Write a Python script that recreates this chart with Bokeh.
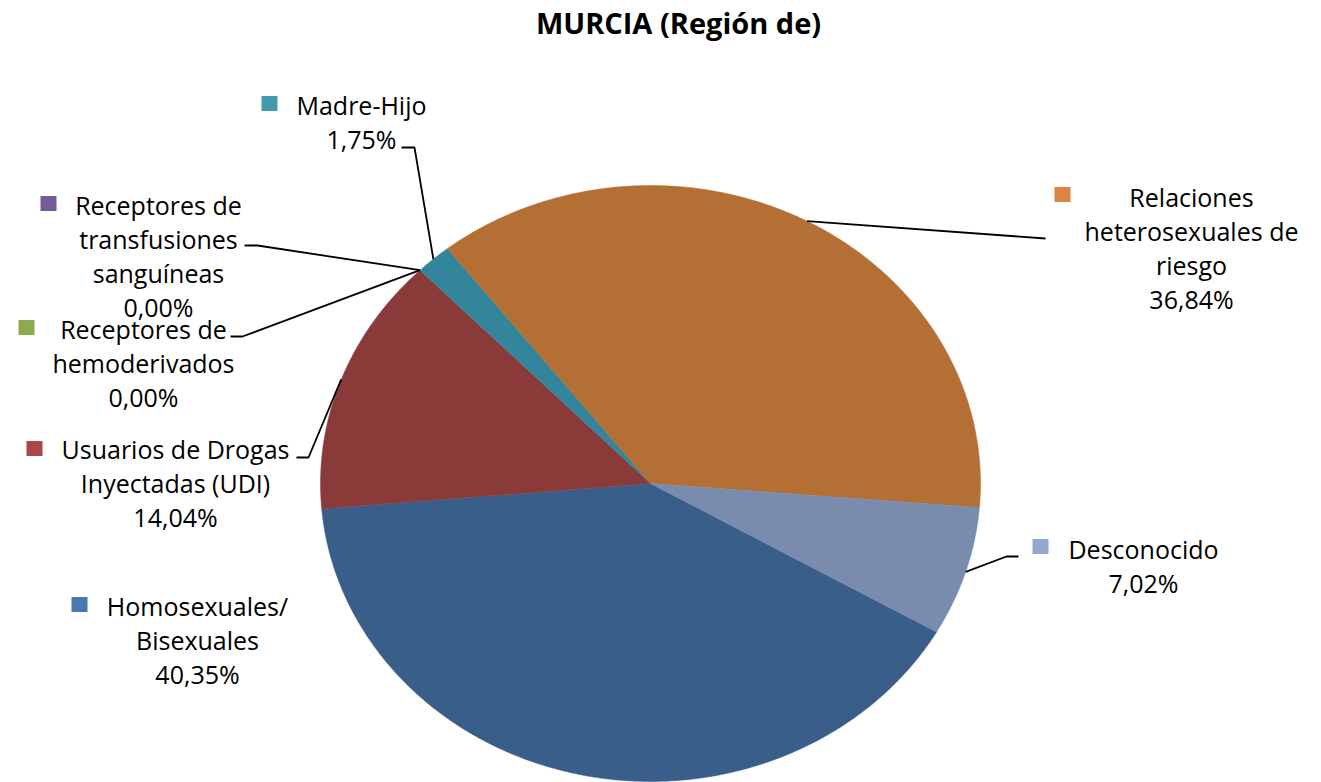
import numpy as np
from bokeh.plotting import figure
from bokeh.models import Range1d
from bokeh.embed import file_html
from bokeh.resources import INLINE
from bokeh.core.properties import value

# ---------------- data ----------------
title = "MURCIA (Región de)"
categories = [
    "Homosexuales/ Bisexuales",
    "Usuarios de Drogas Inyectadas (UDI)",
    "Receptores de hemoderivados",
    "Receptores de transfusiones sanguíneas",
    "Madre-Hijo",
    "Relaciones heterosexuales de riesgo",
    "Desconocido",
]
values = [40.35, 14.04, 0.00, 0.00, 1.75, 36.84, 7.02]
slice_colors = ["#3A5E8A", "#8B3A3A", "#7A9440", "#644A82", "#32859B", "#B46F34", "#7A8CAD"]
key_colors = ["#4A78B0", "#AA4845", "#8EAA4E", "#775A99", "#4599AE", "#DC8443", "#94A8CF"]
label_lines = [
    ["Homosexuales/", "Bisexuales"],
    ["Usuarios de Drogas", "Inyectadas (UDI)"],
    ["Receptores de", "hemoderivados"],
    ["Receptores de", "transfusiones", "sanguíneas"],
    ["Madre-Hijo"],
    ["Relaciones", "heterosexuales de", "riesgo"],
    ["Desconocido"],
]

# ---------------- layout ----------------
CX, CY, RX, RY = 650, 483, 330, 298
START = 119.9          # degrees, clockwise from 12 o'clock
LINE_H = 34
FONT = value("Open Sans")
FS = "25px"

# per label: center x of text block, y of first line, key center (x, y), leader points on label side
label_layout = [
    dict(cx=197, y0=605, key=(79, 604), leader=None),
    dict(cx=175, y0=448, key=(34, 448), leader=[(296, 457), (308, 457)]),
    dict(cx=143, y0=328, key=(26, 327), leader=[(230, 336), (242, 336)]),
    dict(cx=158, y0=204, key=(48, 203), leader=[(244, 245), (257, 245)]),
    dict(cx=361, y0=104, key=(269, 103), leader=[(401, 147), (414, 147)]),
    dict(cx=1191, y0=196, key=(1062, 194), leader=[(1045, 238)]),
    dict(cx=1143, y0=548, key=(1040, 546), leader=[(1018, 556), (1006, 556)]),
]

W, H = 1321, 782
p = figure(width=W, height=H, x_range=Range1d(0, W), y_range=Range1d(H, 0),
           output_backend="svg", toolbar_location=None, min_border=0,
           x_axis_location=None, y_axis_location=None)
p.grid.visible = False
p.outline_line_color = None
p.background_fill_color = "white"

# ---------------- pie (elliptical) ----------------
vals = np.array(values, dtype=float)
total = vals.sum()
starts = START + 360.0 * np.concatenate([[0], np.cumsum(vals)[:-1]]) / total
ends = starts + 360.0 * vals / total
mids = (starts + ends) / 2

xs_list, ys_list, cols = [], [], []
for v, a0, a1, c in zip(vals, starts, ends, slice_colors):
    if v <= 0:
        continue
    t = np.radians(np.linspace(a0, a1, max(4, int((a1 - a0) * 2))))
    xs_list.append(np.concatenate([[CX], CX + RX * np.sin(t)]).tolist())
    ys_list.append(np.concatenate([[CY], CY - RY * np.cos(t)]).tolist())
    cols.append(c)
p.patches(xs_list, ys_list, fill_color=cols, line_color=cols, line_width=0.5)

# ---------------- leader lines ----------------
for lay, m in zip(label_layout, mids):
    if lay["leader"] is None:
        continue
    mr = np.radians(m)
    px = CX + RX * np.sin(mr)
    py = CY - RY * np.cos(mr)
    pts = lay["leader"] + [(px, py)]
    p.line([q[0] for q in pts], [q[1] for q in pts], line_color="black", line_width=1.8)

# ---------------- labels ----------------
tx, ty, tt = [], [], []
for lines, v, lay in zip(label_lines, values, label_layout):
    pct = f"{v:.2f}".replace(".", ",") + "%"
    all_lines = lines + [pct]
    for i, s in enumerate(all_lines):
        tx.append(lay["cx"])
        ty.append(lay["y0"] + i * LINE_H)
        tt.append(s)
p.text(tx, ty, text=tt, text_align="center", text_baseline="middle",
       text_font=FONT, text_font_size=FS, text_color="black")

kx = [lay["key"][0] for lay in label_layout]
ky = [lay["key"][1] for lay in label_layout]
p.rect(kx, ky, width=16, height=15, fill_color=key_colors, line_color=None)

# ---------------- title ----------------
p.text([678], [22], text=[title], text_align="center", text_baseline="middle",
       text_font=FONT, text_font_style="bold", text_font_size="29px", text_color="black")

open("out.html", "w").write(file_html(p, INLINE))
